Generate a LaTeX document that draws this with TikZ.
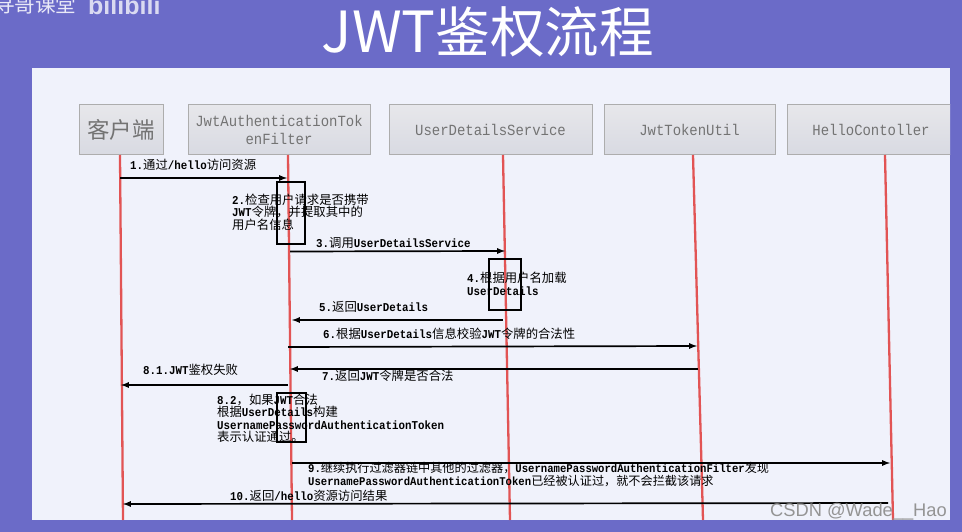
\documentclass[tikz,border=0pt]{standalone}
\usepackage{fontspec}
\setmainfont[FakeStretch=0.9]{Liberation Mono}
\newfontfamily\cjk[Scale=1.03]{Noto Sans CJK SC}
\newfontfamily\sansf{Liberation Sans}
\newcommand{\zh}[1]{{\cjk\mdseries #1}}
\definecolor{bgpurple}{HTML}{6B6BC8}
\definecolor{panelcol}{HTML}{F0F2FB}
\definecolor{linered}{HTML}{E25454}
\usetikzlibrary{positioning}
\lineskiplimit=-30pt
\tikzset{
    headbox/.style={draw=black!32, line width=1pt, top color=white!94!blue!60!gray!40, bottom color=black!10!panelcol,
        minimum height=50pt, inner sep=0pt, align=center, text=black!55, font=\fontsize{15.5}{18}\selectfont},
    lifeline/.style={linered, line width=2.3pt},
    msg/.style={-latex, black, line width=1.7pt},
    actbox/.style={draw=black, line width=1.2pt},
    lbl/.style={anchor=west, inner sep=0pt, align=left, text=black, font=\bfseries\fontsize{12}{12.5}\selectfont}
}
\begin{document}
\begin{tikzpicture}[x=1pt, y=-1pt]
    \useasboundingbox (0,0) rectangle (962,532);
    \fill[bgpurple] (0,0) rectangle (962,532);
    \fill[panelcol] (32,68) rectangle (950,520);

    % 标题
    \node[white, font=\fontsize{53}{56}\selectfont] (title) at (488,32) {{\cjk\fontsize{55}{56}\selectfont JWT}\zh{鉴权流程}};
    \node[anchor=west, inner sep=0pt, white!85!bgpurple, font=\fontsize{20}{22}\selectfont] (course) at (-6,5) {\zh{寻哥课堂}};
    \node[anchor=west, inner sep=0pt, white!75!bgpurple, font=\sansf\bfseries\fontsize{25}{27}\selectfont] (logo) at (88,6) {bilibili};

    % 表头
    \begin{scope}
        \clip (32,68) rectangle (950,520);
        \node[headbox, minimum width=84pt] (client) at (121,130) {\fontsize{21.8}{24}\selectfont\zh{客户端}};
        \node[headbox, minimum width=182pt] (filter) at (279,130) {JwtAuthenticationTok\\enFilter};
        \node[headbox, minimum width=203pt] (service) at (490.5,130) {UserDetailsService};
        \node[headbox, minimum width=171pt] (util) at (689.5,130) {JwtTokenUtil};
        \node[headbox, minimum width=168pt] (hello) at (871,130) {HelloContoller};
    \end{scope}

    % 生命线端点
    \foreach \name/\xa/\ya in {clienttop/120/155, clientbot/123/520, filtertop/288/155, filterbot/292/520,
        servicetop/503/155, servicebot/510/520, utiltop/693/155, utilbot/703/520, hellotop/885/155, hellobot/893/520}
        \coordinate (\name) at (\xa,\ya);

    % 生命线
    \foreach \name in {client, filter, service, util, hello}
        \draw[lifeline] (\name top) -- (\name bot);

    % 激活框
    \draw[actbox] (277,182) rectangle (305,244);
    \draw[actbox] (489,259) rectangle (521,310);
    \draw[actbox] (277,393) rectangle (306,442);

    % 消息端点
    \foreach \name/\xa/\ya in {m1a/120/178, m1b/287/178, m3a/290/251.5, m3b/505/251, m5a/503/320, m5b/292/320,
        m6a/288/347, m6b/697/346, m7a/698/369, m7b/290/369, m81a/288/385, m81b/121/385,
        m9a/292/463, m9b/890/463, m10a/888/503, m10b/123/504}
        \coordinate (\name) at (\xa,\ya);

    % 消息
    \foreach \from/\to in {m1a/m1b, m3a/m3b, m5a/m5b, m6a/m6b, m7a/m7b, m81a/m81b, m9a/m9b, m10a/m10b}
        \draw[msg] (\from) -- (\to);

    % 文字标注
    \node[lbl] (l1) at (130,165) {1.\zh{通过}/hello\zh{访问资源}};
    \node[lbl] (l2) at (232,212) {2.\zh{检查用户请求是否携带}\\JWT\zh{令牌，并提取其中的}\\\zh{用户名信息}};
    \node[lbl] (l3) at (316,243) {3.\zh{调用}UserDetailsService};
    \node[lbl] (l4) at (467,284) {4.\zh{根据用户名加载}\\UserDetails};
    \node[lbl] (l5) at (319,307) {5.\zh{返回}UserDetails};
    \node[lbl] (l6) at (323,334) {6.\zh{根据}UserDetails\zh{信息校验}JWT\zh{令牌的合法性}};
    \node[lbl] (l7) at (322,376) {7.\zh{返回}JWT\zh{令牌是否合法}};
    \node[lbl] (l81) at (143,370) {8.1.JWT\zh{鉴权失败}};
    \node[lbl] (l82) at (217,418.5) {8.2\zh{，如果}JWT\zh{合法}\\\zh{根据}UserDetails\zh{构建}\\UsernamePasswordAuthenticationToken\\\zh{表示认证通过。}};
    \node[lbl, font=\bfseries\fontsize{11.8}{12.5}\selectfont] (l9) at (308,474.5) {9.\zh{继续执行过滤器链中其他的过滤器，}UsernamePasswordAuthenticationFilter\zh{发现}\\UsernamePasswordAuthenticationToken\zh{已经被认证过，就不会拦截该请求}};
    \node[lbl] (l10) at (230,496) {10.\zh{返回}/hello\zh{资源访问结果}};

    % 水印
    \node[anchor=east, inner sep=0pt, black!42, font=\sansf\fontsize{18.3}{22}\selectfont] (mark) at (947,512) {CSDN @Wade\_\_Hao};
\end{tikzpicture}
\end{document}
